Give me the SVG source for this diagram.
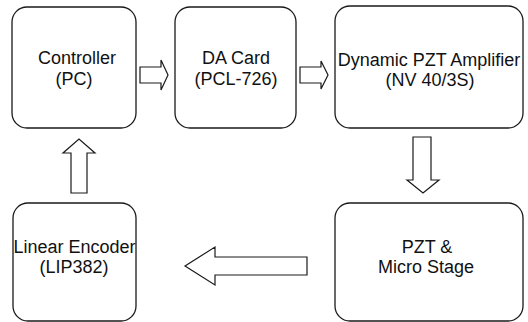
<svg xmlns="http://www.w3.org/2000/svg" width="528" height="322" viewBox="0 0 528 322">
<style>
.box{fill:#fff;stroke:#1a1a1a;stroke-width:1.3}
.arr{fill:#fff;stroke:#1a1a1a;stroke-width:1.2;stroke-linejoin:miter}
text{font-family:"Liberation Sans",Arial,sans-serif;font-size:18px;fill:#111;text-anchor:middle}
</style>
<rect width="528" height="322" fill="#fff"/>
<g id="controller">
<rect class="box" x="12" y="7" width="124" height="121" rx="15"/>
<text x="77" y="64">Controller</text>
<text x="74" y="85">(PC)</text>
</g>
<g id="da-card">
<rect class="box" x="175" y="7" width="121" height="121" rx="15"/>
<text x="236" y="64">DA Card</text>
<text x="236" y="85">(PCL-726)</text>
</g>
<g id="amplifier">
<rect class="box" x="335" y="6" width="188" height="122" rx="15"/>
<text x="429" y="66">Dynamic PZT Amplifier</text>
<text x="430" y="86">(NV 40/3S)</text>
</g>
<g id="linear-encoder">
<rect class="box" x="13" y="203" width="123" height="118" rx="15"/>
<text x="74.5" y="253">Linear Encoder</text>
<text x="74" y="273">(LIP382)</text>
</g>
<g id="pzt-stage">
<rect class="box" x="335" y="203" width="188" height="118" rx="15"/>
<text x="427" y="253">PZT &amp;</text>
<text x="426" y="273">Micro Stage</text>
</g>
<g id="connectors">
<polygon class="arr" points="140,67 161,67 161,60 168,75 161,90 161,83 140,83"/>
<polygon class="arr" points="300,67 321,67 321,61 328,75 321,89 321,83 300,83"/>
<polygon class="arr" points="413,137 431,137 431,180 439,180 423,193 407,180 413,180"/>
<polygon class="arr" points="307,257 215,257 215,247 185,266 215,285 215,275 307,275"/>
<polygon class="arr" points="71,193 71,153 63,153 79,139 95,153 87,153 87,193"/>
</g>
</svg>
